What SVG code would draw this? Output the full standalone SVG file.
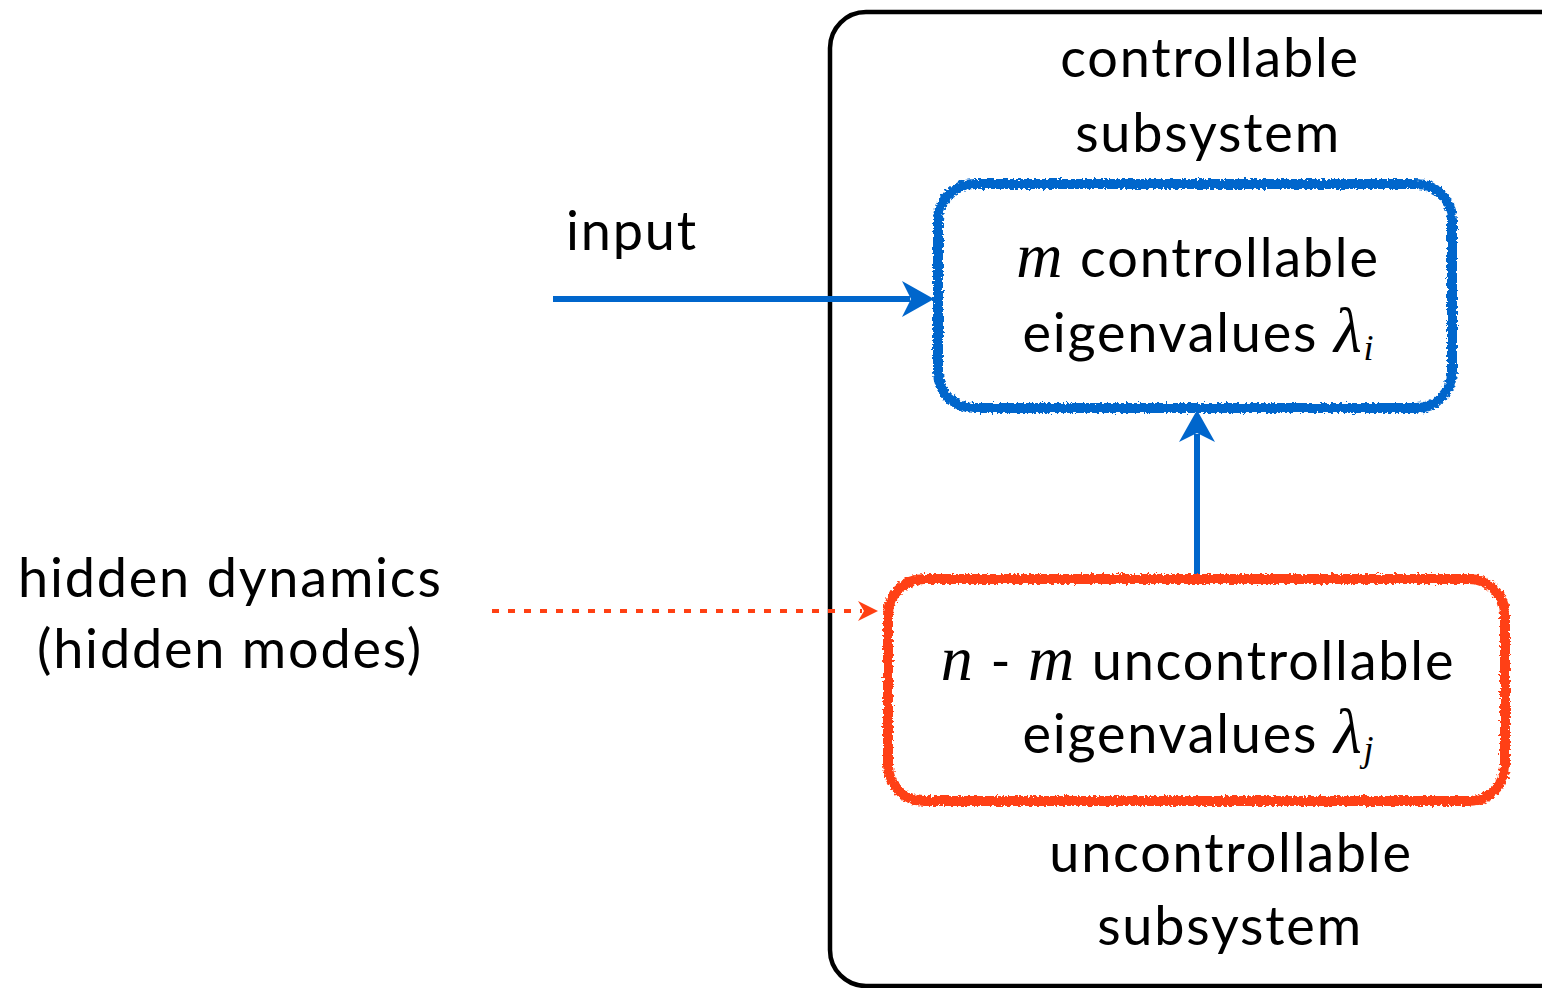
<svg xmlns="http://www.w3.org/2000/svg" width="1542" height="988" viewBox="0 0 1542 988">
<style>
.t{font-family:Lato,"Open Sans","DejaVu Sans",sans-serif;font-size:54px;letter-spacing:1.8px;fill:#000}
.m{font-family:"Liberation Serif","DejaVu Serif",serif;font-style:italic;font-size:64px;letter-spacing:2px}
.sub{font-family:"Liberation Serif","DejaVu Serif",serif;font-style:italic;font-size:36px;letter-spacing:0}
</style>
<defs>
<filter id="rough" x="-5%" y="-5%" width="110%" height="110%">
<feTurbulence type="fractalNoise" baseFrequency="0.35" numOctaves="2" seed="3" result="n"/>
<feDisplacementMap in="SourceGraphic" in2="n" scale="6" xChannelSelector="R" yChannelSelector="G"/>
</filter>
</defs>
<g id="system">
<rect x="830" y="12" width="760" height="974" rx="36" fill="none" stroke="#000" stroke-width="4.5"/>
<text class="t" x="1210" y="77" text-anchor="middle">controllable</text>
<text class="t" x="1208" y="152" text-anchor="middle">subsystem</text>
<text class="t" x="1231" y="872" text-anchor="middle">uncontrollable</text>
<text class="t" x="1230" y="945" text-anchor="middle">subsystem</text>
</g>
<g id="connectors">
<line x1="553" y1="299" x2="910" y2="299" stroke="#0066CC" stroke-width="6"/>
<path d="M934,299 L902,281 L911,299 L902,317 Z" fill="#0066CC"/>
<line x1="1197" y1="577" x2="1197" y2="434" stroke="#0066CC" stroke-width="6"/>
<path d="M1197,410 L1179,442 L1197,433 L1215,442 Z" fill="#0066CC"/>
<line x1="492" y1="611" x2="862" y2="611" stroke="#FF4013" stroke-width="4" stroke-dasharray="7,9"/>
<path d="M878,611 L858,601 L864,611 L858,621 Z" fill="#FF4013"/>
</g>
<g id="controllable">
<rect x="938" y="184" width="514" height="224" rx="36" fill="none" stroke="#0066CC" stroke-width="10" filter="url(#rough)"/>
<text class="t" x="1198" y="277" text-anchor="middle"><tspan class="m">m</tspan> controllable</text>
<text class="t" x="1198" y="352" text-anchor="middle">eigenvalues <tspan class="m">λ</tspan><tspan class="sub" dy="8">i</tspan></text>
</g>
<g id="uncontrollable">
<rect x="888" y="579" width="617" height="222" rx="36" fill="none" stroke="#FF4013" stroke-width="10" filter="url(#rough)"/>
<text class="t" x="1198" y="680" text-anchor="middle"><tspan class="m">n</tspan> - <tspan class="m">m</tspan> uncontrollable</text>
<text class="t" x="1198" y="753" text-anchor="middle">eigenvalues <tspan class="m">λ</tspan><tspan class="sub" dy="8">j</tspan></text>
</g>
<g id="labels">
<text class="t" x="566" y="250">input</text>
<text class="t" x="18" y="597">hidden dynamics</text>
<text class="t" x="230" y="668" text-anchor="middle">(hidden modes)</text>
</g>
</svg>
